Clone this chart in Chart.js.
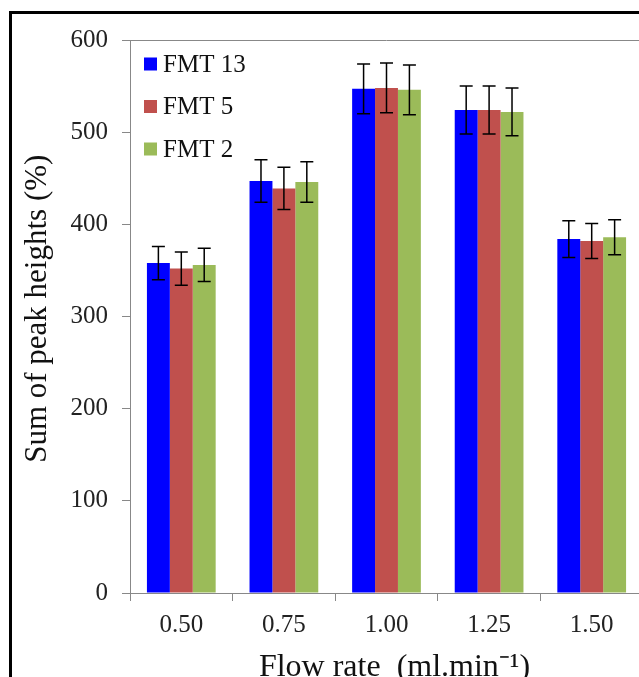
<!DOCTYPE html>
<html>
<head>
<meta charset="utf-8">
<script src="https://cdn.jsdelivr.net/npm/chart.js@4.4.0/dist/chart.umd.min.js"></script>
<style>
  html, body { margin: 0; padding: 0; overflow: hidden; background: #fff; }
  #frame { position: absolute; left: 9px; top: 11px; width: 700px; height: 700px; border: 3px solid #000; }
  #wrap { position: absolute; left: 0; top: 0; width: 680px; height: 687px; }
</style>
</head>
<body>
<div id="frame"></div>
<div id="wrap"><canvas id="peakChart"></canvas></div>
<script>
const flowRates = ['0.50', '0.75', '1.00', '1.25', '1.50'];
const fmt13 = [358, 447, 547, 524, 384];
const fmt5 = [352, 439, 548, 524, 382];
const fmt2 = [356, 446, 546, 522, 386];
const fmt13Err = [18, 23, 27, 26, 20];
const fmt5Err = [18, 23, 27, 26, 19];
const fmt2Err = [18, 22, 27, 26, 19];

const serif = "'Liberation Serif', 'Times New Roman', serif";

// error bars on top of each bar
const errorBars = {
  id: 'errorBars',
  afterDatasetsDraw(chart) {
    const ctx = chart.ctx;
    const y = chart.scales.y;
    ctx.save();
    ctx.strokeStyle = '#000';
    ctx.lineWidth = 1.5;
    chart.data.datasets.forEach((ds, i) => {
      const meta = chart.getDatasetMeta(i);
      meta.data.forEach((bar, j) => {
        const v = ds.data[j], e = ds.errors[j];
        const top = y.getPixelForValue(v + e);
        const bot = y.getPixelForValue(v - e);
        ctx.beginPath();
        ctx.moveTo(bar.x, top); ctx.lineTo(bar.x, bot);
        ctx.moveTo(bar.x - 6.5, top); ctx.lineTo(bar.x + 6.5, top);
        ctx.moveTo(bar.x - 6.5, bot); ctx.lineTo(bar.x + 6.5, bot);
        ctx.stroke();
      });
    });
    ctx.restore();
  }
};

// plot area outline + legend inside the top left corner
const boxLegend = {
  id: 'boxLegend',
  afterDraw(chart) {
    const ctx = chart.ctx;
    const a = chart.chartArea;
    ctx.save();
    ctx.strokeStyle = '#888';
    ctx.lineWidth = 1;
    ctx.beginPath();
    ctx.moveTo(a.left, a.top + 0.5);
    ctx.lineTo(a.right, a.top + 0.5);
    ctx.stroke();
    ctx.font = '25px ' + serif;
    ctx.textBaseline = 'middle';
    chart.data.datasets.forEach((ds, i) => {
      const cy = a.top + 24 + i * 42.5;
      ctx.fillStyle = ds.backgroundColor;
      ctx.fillRect(a.left + 14, cy - 6.5, 13, 13);
      ctx.fillStyle = '#111';
      ctx.fillText(ds.label, a.left + 33, cy + 1);
    });
    ctx.restore();
  }
};

new Chart(document.getElementById('peakChart'), {
  type: 'bar',
  data: {
    labels: flowRates,
    datasets: [
      { label: 'FMT 13', data: fmt13, errors: fmt13Err, backgroundColor: '#0000FF' },
      { label: 'FMT 5', data: fmt5, errors: fmt5Err, backgroundColor: '#C0504D' },
      { label: 'FMT 2', data: fmt2, errors: fmt2Err, backgroundColor: '#9BBB59' }
    ]
  },
  options: {
    responsive: true,
    maintainAspectRatio: false,
    animation: false,
    datasets: { bar: { barPercentage: 1, categoryPercentage: 0.67 } },
    layout: { padding: { left: 19, top: 40, right: 37, bottom: 0 } },
    plugins: { legend: { display: false }, tooltip: { enabled: false } },
    scales: {
      x: {
        grid: { display: true, drawOnChartArea: false, drawTicks: true, tickLength: 8, color: '#888' },
        border: { color: '#888', width: 1 },
        ticks: { color: '#222', padding: 9, font: { family: serif, size: 25 }, maxRotation: 0 },
        title: { display: true, text: '  Flow rate  (ml.min⁻¹)', color: '#111', padding: 0, font: { family: serif, size: 32 } },
        afterFit(scale) { scale.height = 94; }
      },
      y: {
        min: 0,
        max: 600,
        ticks: { stepSize: 100, color: '#222', padding: 14, font: { family: serif, size: 25 } },
        grid: { display: true, drawOnChartArea: false, drawTicks: true, tickLength: 8, color: '#888' },
        border: { color: '#888', width: 1 },
        title: { display: true, text: '  Sum of peak heights (%)', color: '#111', padding: 0, font: { family: serif, size: 31 } },
        afterFit(scale) { scale.width = 111; }
      }
    }
  },
  plugins: [errorBars, boxLegend]
});
</script>
</body>
</html>
